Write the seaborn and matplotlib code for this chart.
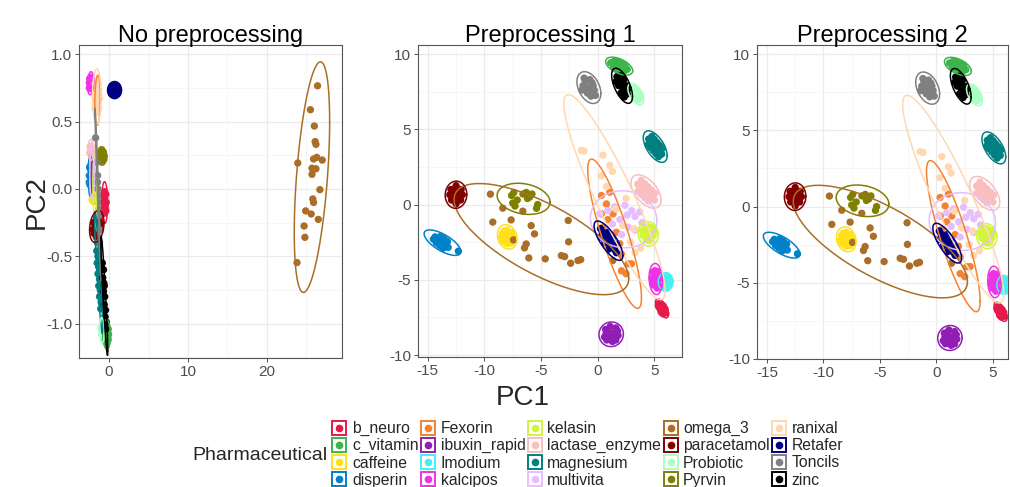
import numpy as np
import pandas as pd
import matplotlib
matplotlib.use("Agg")
import matplotlib.pyplot as plt
import seaborn as sns
from matplotlib.lines import Line2D
from matplotlib.legend_handler import HandlerTuple
from matplotlib.ticker import MultipleLocator, FormatStrFormatter

# ---------------- data ----------------
GROUPS = ["b_neuro", "c_vitamin", "caffeine", "disperin", "Fexorin", "ibuxin_rapid",
          "Imodium", "kalcipos", "kelasin", "lactase_enzyme", "magnesium", "multivita",
          "omega_3", "paracetamol", "Probiotic", "Pyrvin", "ranixal", "Retafer",
          "Toncils", "zinc"]
COLORS = ["#e6194b", "#3cb44b", "#ffe119", "#0082c8", "#f58231", "#911eb4",
          "#46f0f0", "#f032e6", "#d2f53c", "#fabebe", "#008080", "#e6beff",
          "#aa6e28", "#800000", "#aaffc3", "#808000", "#ffd8b1", "#000080",
          "#808080", "#000000"]
PANEL_TITLES = ["No preprocessing", "Preprocessing 1", "Preprocessing 2"]

# --- No preprocessing (PC1, PC2) ---
raw_b_neuro = [(-0.55, -0.1), (-0.7, -0.04), (-0.4, -0.04), (-0.7, -0.16), (-0.4, -0.16),
               (-0.55, -0.02), (-0.55, -0.18), (-0.75, -0.1), (-0.35, -0.1), (-0.6, -0.07),
               (-0.5, -0.13)]
raw_c_vitamin = [(-0.3, -1.08), (-0.5, -1.04), (-0.1, -1.04), (-0.5, -1.12), (-0.1, -1.12),
                 (-0.3, -1.02), (-0.3, -1.14), (-0.55, -1.08), (-0.05, -1.08), (-0.4, -1.06),
                 (-0.2, -1.1)]
raw_caffeine = [(-2.0, -0.07), (-2.15, -0.08), (-1.85, -0.06), (-2.05, -0.05), (-1.95, -0.09),
                (-2.1, -0.06)]
raw_disperin = [(-2.4, 0.1), (-2.5, 0.05), (-2.3, 0.05), (-2.45, 0.16), (-2.35, 0.15),
                (-2.4, 0.03), (-2.4, 0.17), (-2.5, 0.1), (-2.3, 0.1)]
raw_Fexorin = [(-1.45, 0.65), (-1.55, 0.58), (-1.35, 0.6), (-1.5, 0.72), (-1.4, 0.74),
               (-1.6, 0.66), (-1.3, 0.67)]
raw_ibuxin_rapid = [(-2.15, 0.1), (-2.2, 0.07), (-2.1, 0.13), (-2.18, 0.14), (-2.12, 0.06)]
raw_Imodium = [(-1.5, -0.25), (-1.6, -0.24), (-1.4, -0.26), (-1.5, -0.27), (-1.45, -0.23)]
raw_kalcipos = [(-2.33, 0.785), (-2.5, 0.75), (-2.15, 0.76), (-2.45, 0.82), (-2.2, 0.81),
                (-2.35, 0.745), (-2.3, 0.83), (-2.5, 0.79), (-2.15, 0.8), (-2.4, 0.77)]
raw_kelasin = [(-1.8, 0.03), (-1.9, -0.03), (-1.7, -0.03), (-1.88, 0.1), (-1.72, 0.1),
               (-1.8, -0.06), (-1.8, 0.12)]
raw_lactase_enzyme = [(-2.3, 0.29), (-2.45, 0.27), (-2.15, 0.27), (-2.4, 0.315), (-2.2, 0.31),
                      (-2.3, 0.26), (-2.3, 0.32)]
raw_magnesium = [(-1.6, -0.36), (-1.45, -0.4), (-1.55, -0.46), (-1.4, -0.5), (-1.5, -0.55),
                 (-1.3, -0.58), (-1.4, -0.63), (-1.2, -0.67), (-1.3, -0.72), (-1.1, -0.75),
                 (-1.2, -0.8), (-1.0, -0.84), (-1.05, -0.89), (-1.35, -0.55)]
raw_multivita = [(-2.15, 0.12), (-2.25, 0.05), (-2.05, 0.05), (-2.25, 0.19), (-2.05, 0.19),
                 (-2.15, 0.03), (-2.15, 0.21), (-2.27, 0.12), (-2.03, 0.12)]
raw_omega_3 = [(26.4, 0.767), (25.5, 0.589), (26.0, 0.468), (26.1, 0.352), (26.2, 0.332),
               (26.3, 0.235), (25.9, 0.223), (27.0, 0.215), (23.9, 0.193), (25.7, 0.154),
               (26.2, 0.15), (25.7, 0.109), (26.7, -0.005), (25.8, -0.074), (25.9, -0.10),
               (24.9, -0.163), (25.6, -0.186), (26.5, -0.226), (24.7, -0.275), (24.8, -0.359),
               (23.8, -0.547)]
raw_paracetamol = [(-1.55, -0.28), (-1.9, -0.33), (-1.2, -0.23), (-1.95, -0.25), (-1.15, -0.3),
                   (-1.55, -0.21), (-1.55, -0.35), (-2.0, -0.3), (-1.1, -0.26), (-1.7, -0.27),
                   (-1.4, -0.29)]
raw_Probiotic = [(-0.9, -1.05), (-1.0, -1.03), (-0.8, -1.07), (-0.95, -1.08), (-0.85, -1.02)]
raw_Pyrvin = [(-0.9, 0.245), (-1.15, 0.22), (-0.65, 0.22), (-1.1, 0.27), (-0.7, 0.27),
              (-0.9, 0.21), (-0.9, 0.285), (-1.2, 0.245), (-0.6, 0.245), (-1.0, 0.26),
              (-0.8, 0.23)]
raw_ranixal = [(-1.55, 0.685), (-1.8, 0.6), (-1.3, 0.6), (-1.75, 0.78), (-1.35, 0.78),
               (-1.55, 0.57), (-1.55, 0.8), (-1.85, 0.69), (-1.25, 0.69), (-1.65, 0.64),
               (-1.45, 0.73), (-1.7, 0.72), (-1.4, 0.65)]
raw_Retafer = [(0.7, 0.735), (0.3, 0.71), (1.1, 0.71), (0.35, 0.76), (1.05, 0.76), (0.7, 0.7),
               (0.7, 0.77), (0.2, 0.735), (1.2, 0.735), (0.5, 0.72), (0.9, 0.75), (0.55, 0.755),
               (0.85, 0.715)]
raw_Toncils = [(-1.7, 0.38), (-1.5, 0.2), (-1.45, 0.1), (-1.4, 0.0), (-1.35, -0.1), (-1.3, -0.2),
               (-1.25, -0.3), (-1.2, -0.4), (-1.45, 0.05), (-1.35, -0.05), (-1.3, -0.15)]
raw_zinc = [(-0.85, -0.55), (-0.7, -0.6), (-0.8, -0.66), (-0.65, -0.7), (-0.7, -0.76),
            (-0.55, -0.8), (-0.6, -0.86), (-0.45, -0.9), (-0.5, -0.95), (-0.35, -0.99),
            (-0.4, -1.04), (-0.6, -0.72)]

# --- Preprocessing 1 ---
pp1_b_neuro = [(5.7, -6.9), (5.5, -6.6), (5.9, -7.0), (5.6, -7.15), (5.8, -6.75), (5.4, -6.8),
               (6.0, -7.2), (5.45, -6.55), (5.75, -7.25), (5.95, -6.95), (5.55, -6.95),
               (5.65, -6.65), (5.85, -7.1), (5.35, -6.7)]
pp1_c_vitamin = [(1.15, 9.42), (1.45, 9.33), (1.75, 9.24), (2.05, 9.15), (2.35, 9.06),
                 (2.6, 8.98), (1.5, 9.55), (1.8, 9.46), (2.1, 9.37), (2.4, 9.28), (1.4, 9.11),
                 (1.7, 9.02), (2.0, 8.93), (2.3, 8.84)]
pp1_caffeine = [(-8.0, -2.15), (-8.4, -1.9), (-7.6, -1.85), (-8.3, -2.45), (-7.7, -2.45),
                (-8.0, -1.7), (-8.0, -2.6), (-8.5, -2.2), (-7.5, -2.15), (-8.2, -2.1),
                (-7.8, -2.3), (-7.85, -1.95), (-8.25, -1.75), (-7.65, -2.55)]
pp1_disperin = [(-14.35, -2.15), (-14.05, -2.33), (-13.75, -2.5), (-13.45, -2.68),
                (-13.2, -2.85), (-13.86, -2.11), (-14.24, -2.55), (-13.56, -2.28),
                (-13.94, -2.72), (-13.26, -2.46), (-13.64, -2.9), (-14.5, -2.3),
                (-12.3, -3.1)]
pp1_Fexorin = [(0.33, 0.6), (1.06, 0.82), (0.77, 0.04), (0.33, -0.62), (1.36, -0.62),
               (0.47, -1.5), (1.65, -1.84), (1.95, -2.6), (2.1, -3.3), (2.68, -3.94),
               (2.1, -4.4), (2.98, -3.94), (2.5, -4.6), (0.9, -1.0), (1.2, -2.2)]
pp1_ibuxin_rapid = [(1.2, -8.6), (0.7, -8.3), (1.6, -8.2), (0.6, -8.8), (1.8, -8.7),
                    (1.1, -8.1), (1.3, -9.1), (0.8, -9.0), (1.6, -9.0), (1.0, -8.45),
                    (1.45, -8.55), (0.9, -8.7), (1.3, -8.85), (1.75, -8.4), (0.75, -8.55)]
pp1_Imodium = [(6.0, -5.15), (5.7, -4.9), (6.2, -4.85), (5.75, -5.4), (6.3, -5.3), (6.0, -4.8),
               (6.05, -5.5), (5.65, -5.15), (6.35, -5.1), (5.9, -5.0), (6.15, -5.2),
               (5.85, -5.3)]
pp1_kalcipos = [(5.15, -4.95), (4.9, -4.5), (5.3, -4.45), (4.8, -4.9), (5.5, -4.9),
                (4.95, -5.35), (5.4, -5.4), (5.1, -4.6), (5.2, -5.3), (5.0, -5.05),
                (5.35, -4.75), (4.85, -5.15), (5.25, -5.55), (5.05, -4.4)]
pp1_kelasin = [(4.45, -1.9), (4.1, -1.6), (4.8, -1.55), (4.0, -2.05), (4.9, -2.05),
               (4.3, -2.35), (4.7, -2.3), (4.45, -1.45), (4.2, -1.85), (4.65, -1.95),
               (4.55, -2.4), (3.95, -1.75), (4.95, -1.8), (4.35, -2.15)]
pp1_lactase_enzyme = [(3.55, 1.35), (3.85, 1.13), (4.15, 0.92), (4.45, 0.7), (4.75, 0.5),
                      (5.0, 0.3), (4.15, 1.38), (3.55, 0.88), (4.45, 1.17), (3.85, 0.67),
                      (4.75, 0.95), (4.15, 0.45), (5.05, 0.75), (4.45, 0.25), (3.85, 1.6)]
pp1_magnesium = [(4.5, 4.35), (4.73, 4.15), (4.96, 3.95), (5.19, 3.75), (5.42, 3.55),
                 (5.65, 3.35), (5.01, 4.32), (4.45, 3.98), (5.24, 4.12), (4.68, 3.78),
                 (5.47, 3.92), (4.91, 3.58), (5.7, 3.72), (5.14, 3.38), (4.78, 4.52),
                 (5.37, 3.18)]
pp1_multivita = [(0.2, -0.6), (0.9, -0.4), (1.5, -0.15), (2.4, -0.05), (3.0, -0.4),
                 (3.3, -0.8), (1.95, -1.0), (2.7, -1.5), (3.3, -1.7), (2.1, -2.0),
                 (3.7, -0.5), (1.3, -1.3), (1.5, -2.4), (2.6, -0.7), (3.9, -1.2)]
pp1_omega_3 = [(-9.47, 0.69), (-9.26, -1.17), (-8.38, -0.24), (-7.64, -1.02), (-7.43, -2.35),
               (-6.61, -0.44), (-6.46, -2.88), (-6.31, -2.62), (-6.08, -3.55), (-5.87, -1.40),
               (-5.58, -1.95), (-4.63, -3.61), (-3.21, -3.39), (-2.92, -3.46), (-2.60, -1.06),
               (-2.57, -2.48), (-2.39, -3.90), (-1.74, -3.72), (-1.50, -3.66), (1.33, -3.72)]
pp1_paracetamol = [(-12.5, 0.65), (-12.9, 0.3), (-12.1, 0.3), (-12.95, 1.0), (-12.05, 1.0),
                   (-12.5, 1.25), (-12.5, 0.05), (-13.05, 0.65), (-11.95, 0.65), (-12.7, 0.85),
                   (-12.3, 0.45), (-12.25, 0.9), (-12.75, 0.45), (-12.6, 0.6)]
pp1_Probiotic = [(3.35, 7.35), (3.0, 7.7), (3.2, 7.75), (2.95, 7.45), (3.5, 7.55), (3.3, 7.0),
                 (3.7, 7.05), (3.75, 7.3), (3.15, 7.2), (3.55, 7.2), (3.4, 7.6), (3.6, 6.95),
                 (3.1, 7.5), (3.45, 7.15)]
pp1_Pyrvin = [(-7.6, 0.6), (-7.4, 0.8), (-7.3, -0.1), (-7.1, 0.3), (-6.6, 0.7), (-6.3, 0.8),
              (-6.0, 0.5), (-5.8, 0.7), (-5.4, -0.25), (-5.3, 0.0), (-7.5, 0.1), (-6.2, 0.4)]
pp1_ranixal = [(-1.45, 3.6), (-1.2, 3.55), (0.47, 3.28), (1.06, 2.6), (1.3, 2.2), (0.77, 1.2),
               (2.5, 0.4), (1.6, -0.3), (2.2, -1.4), (3.3, -3.2), (2.9, -2.5), (0.3, 1.9),
               (3.2, -1.6), (3.8, -2.9)]
pp1_Retafer = [(0.25, -1.6), (0.6, -2.0), (0.95, -2.4), (1.3, -2.8), (1.65, -3.2),
               (0.93, -1.84), (0.27, -2.16), (1.28, -2.24), (0.62, -2.56), (1.63, -2.64),
               (0.97, -2.96), (0.4, -1.8), (1.5, -3.0), (0.8, -2.2), (1.1, -2.6)]
pp1_Toncils = [(-0.8, 7.8), (-1.1, 8.2), (-0.5, 8.1), (-1.3, 7.9), (-0.3, 7.6), (-0.9, 7.4),
               (-0.6, 7.2), (-1.2, 8.4), (-0.4, 7.9), (-1.0, 7.7), (-0.7, 8.3), (-0.5, 7.45),
               (-1.4, 7.6), (-0.2, 7.25)]
pp1_zinc = [(2.15, 7.85), (1.7, 8.5), (2.0, 8.55), (1.6, 8.15), (2.3, 8.3), (1.85, 7.9),
            (2.5, 7.9), (2.05, 7.4), (2.6, 7.35), (2.35, 7.15), (2.7, 7.7), (1.8, 8.3),
            (2.25, 7.65), (2.45, 7.55), (1.95, 8.1)]

# Preprocessing 2 reads the same as Preprocessing 1 at this resolution
raw = {g: globals()["raw_" + g] for g in GROUPS}
pp1 = {g: globals()["pp1_" + g] for g in GROUPS}
pp2 = dict(pp1)

rows = []
for title, src in zip(PANEL_TITLES, [raw, pp1, pp2]):
    for g in GROUPS:
        for (x, y) in src[g]:
            rows.append((title, g, x, y))
df = pd.DataFrame(rows, columns=["panel", "Pharmaceutical", "PC1", "PC2"])

# ---------------- style ----------------
sns.set_style("white")
plt.rcParams["font.family"] = ["Liberation Sans", "DejaVu Sans"]
plt.rcParams["axes.unicode_minus"] = False

W, H = 1010, 487
fig = plt.figure(figsize=(W / 100, H / 100), dpi=100)


def px_axes(l, t, r, b):
    return fig.add_axes([l / W, 1 - b / H, (r - l) / W, (b - t) / H])


def ellipse_xy(x, y, level=0.95, npts=121):
    pts = np.column_stack([x, y])
    d = len(pts) - 1
    fq = d / 2 * ((1 - level) ** (-2 / d) - 1)  # F(2, d) quantile
    r = np.sqrt(2 * fq)
    c = pts.mean(0)
    L = np.linalg.cholesky(np.cov(pts.T))
    t = np.linspace(0, 2 * np.pi, npts)
    circ = np.column_stack([np.cos(t), np.sin(t)])
    e = c + r * circ @ L.T
    return e[:, 0], e[:, 1]


boxes = [(79, 45, 342, 358), (418, 45, 682, 357), (757, 45, 1008, 359)]
xlims = [(-3.8, 29.5), (-15.86, 7.44), (-15.88, 6.33)]
ylims = [(-1.256, 1.07), (-10.13, 10.6), (-10.0, 10.6)]
xmaj = [10, 5, 5]
ymaj = [0.5, 5, 5]
palette = dict(zip(GROUPS, COLORS))

for i, title in enumerate(PANEL_TITLES):
    ax = px_axes(*boxes[i])
    sub = df[df["panel"] == title]
    sns.scatterplot(data=sub, x="PC1", y="PC2", hue="Pharmaceutical", hue_order=GROUPS,
                    palette=palette, s=28, linewidth=0, legend=False, ax=ax, zorder=3)
    for g in GROUPS:
        gg = sub[sub["Pharmaceutical"] == g]
        ex, ey = ellipse_xy(gg["PC1"].values, gg["PC2"].values)
        ax.plot(ex, ey, color=palette[g], lw=1.1, zorder=4)
    ax.set_xlim(*xlims[i])
    ax.set_ylim(*ylims[i])
    ax.xaxis.set_major_locator(MultipleLocator(xmaj[i]))
    ax.yaxis.set_major_locator(MultipleLocator(ymaj[i]))
    ax.xaxis.set_minor_locator(MultipleLocator(xmaj[i] / 2))
    ax.yaxis.set_minor_locator(MultipleLocator(ymaj[i] / 2))
    if i == 0:
        ax.yaxis.set_major_formatter(FormatStrFormatter("%.1f"))
    ax.grid(which="major", color="#EBEBEB", lw=0.9)
    ax.grid(which="minor", color="#F3F3F3", lw=0.5)
    ax.set_axisbelow(True)
    for sp in ax.spines.values():
        sp.set_color("#555555")
        sp.set_linewidth(0.8)
    ax.tick_params(which="major", length=3, width=0.6, color="#333333",
                   labelsize=11, labelcolor="#4D4D4D", pad=2, bottom=True, left=True)
    ax.tick_params(which="minor", length=0)
    ax.set_xlabel("")
    ax.set_ylabel("")
    ax.set_title(title, fontsize=17, pad=2.5, color="black")

fig.text(37 / W, 1 - 202 / H, "PC2", rotation=90, ha="center", va="center", fontsize=20)
fig.text(523 / W, 1 - 398 / H, "PC1", ha="center", va="center", fontsize=20)

handles = []
for g in GROUPS:
    c = palette[g]
    box = Line2D([], [], marker="s", ms=9.5, mfc="white", mec=c, mew=1.4, ls="")
    dot = Line2D([], [], marker="o", ms=4.5, color=c, mec=c, ls="")
    handles.append((box, dot))

fig.legend(handles, GROUPS, ncol=5, loc="upper left",
           bbox_to_anchor=(331.5 / W, 1 - 421 / H), frameon=False, fontsize=11.3,
           handlelength=1.0, handletextpad=0.3, columnspacing=0.1, labelspacing=0.14,
           borderpad=0, borderaxespad=0, handler_map={tuple: HandlerTuple(ndivide=1)})
fig.text(328 / W, 1 - 456 / H, "Pharmaceutical", ha="right", va="center", fontsize=14)

fig.savefig("out.png", dpi=100)
